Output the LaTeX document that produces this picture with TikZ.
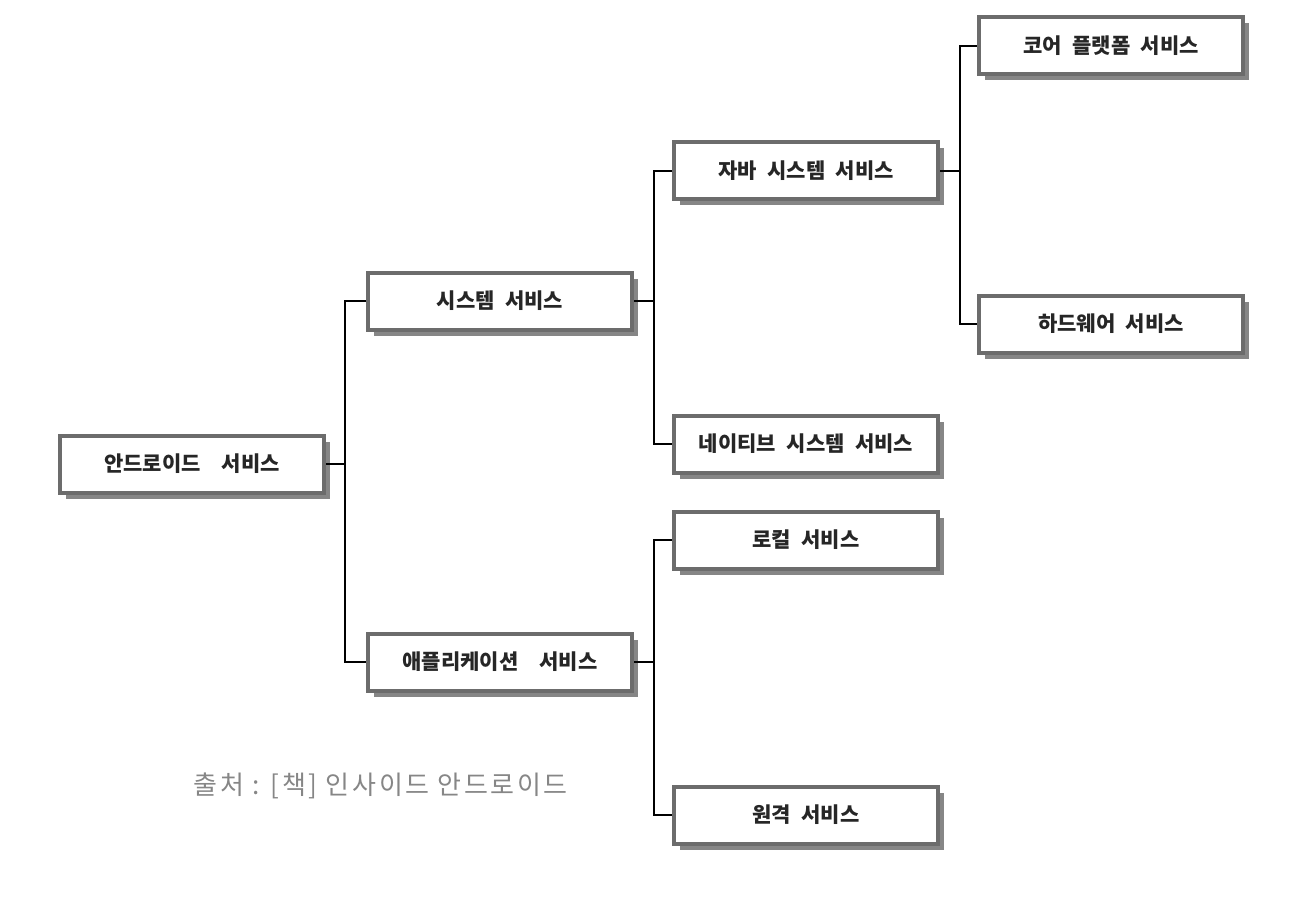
\documentclass[tikz,border=0pt]{standalone}
\usepackage{fontspec}
\newfontfamily\kr{Noto Sans CJK KR}
\newfontfamily\krsrc[LetterSpace=10]{Noto Sans CJK KR}
\usetikzlibrary{shadows}

\tikzset{
  svc/.style={draw=gray!85!black, line width=4pt, fill=white, minimum width=264pt, minimum height=57pt,
    font=\kr\bfseries\fontsize{21}{24}\selectfont, text=black!85,
    drop shadow={shadow xshift=6pt, shadow yshift=-6pt, fill=gray!95, opacity=1}},
  link/.style={line width=1.3pt}
}

\begin{document}
\begin{tikzpicture}[x=1pt, y=-1pt]
    \useasboundingbox (0,0) rectangle (1306,904);

    \node[svc] at (192, 464)    (andsvc) {안드로이드\quad 서비스};
    \node[svc] at (500, 301)    (syssvc) {시스템\enspace 서비스};
    \node[svc] at (500, 662)    (appsvc) {애플리케이션\quad 서비스};
    \node[svc] at (806, 171)    (javasvc) {자바\enspace 시스템\enspace 서비스};
    \node[svc] at (806, 444)    (natsvc) {네이티브\enspace 시스템\enspace 서비스};
    \node[svc] at (806, 540)    (locsvc) {로컬\enspace 서비스};
    \node[svc] at (806, 815)    (remsvc) {원격\enspace 서비스};
    \node[svc] at (1111, 46)    (coresvc) {코어\enspace 플랫폼\enspace 서비스};
    \node[svc] at (1111, 324)   (hwsvc) {하드웨어\enspace 서비스};

    \node[anchor=west, font=\krsrc\fontsize{26}{28}\selectfont, text=gray!95] at (190, 786) (src) {출처 : [책] 인사이드 안드로이드};

    % tree links
    \draw[link] (andsvc.east) -- ++(19,0) coordinate (j1);
    \draw[link] (j1) |- (syssvc.west);
    \draw[link] (j1) |- (appsvc.west);
    \draw[link] (syssvc.east) -- ++(20,0) coordinate (j2);
    \draw[link] (j2) |- (javasvc.west);
    \draw[link] (j2) |- (natsvc.west);
    \draw[link] (javasvc.east) -- ++(20,0) coordinate (j3);
    \draw[link] (j3) |- (coresvc.west);
    \draw[link] (j3) |- (hwsvc.west);
    \draw[link, line width=2pt] (appsvc.east) -- ++(20,0) coordinate (j4);
    \draw[link] (j4) |- (locsvc.west);
    \draw[link] (j4) |- (remsvc.west);
\end{tikzpicture}
\end{document}
